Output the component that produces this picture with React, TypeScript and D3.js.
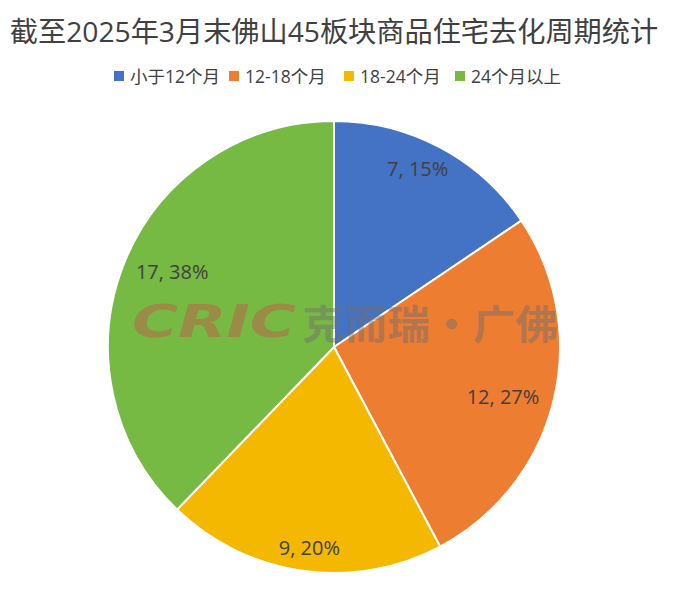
import React from "react";
import * as d3 from "d3";

const title = "截至2025年3月末佛山45板块商品住宅去化周期统计";
const categories = ["小于12个月", "12-18个月", "18-24个月", "24个月以上"];
const counts = [7, 12, 9, 17];
const percents = ["15%", "27%", "20%", "38%"];
const colors = ["#4472C4", "#ED7D31", "#F4B800", "#76B943"];

const W = 679;
const H = 591;
const cx = 334;
const cy = 347;
const R = 226;
const FONT = "'Open Sans', 'Noto Sans CJK SC', sans-serif";
// best-fit label placement: radius factor and angular nudge (degrees) per slice
const labelRadiusFactor = [0.87, 0.78, 0.895, 0.79];
const labelAngleNudge = [-2.8, 2.5, -1, 3];

export default function App() {
  const pie = d3.pie<number>().sort(null).value((d) => d);
  const arcs = pie(counts);
  const arc = d3.arc<d3.PieArcDatum<number>>().innerRadius(0).outerRadius(R);

  const legendX = [114, 229, 344, 455];

  return (
    <svg width={W} height={H} style={{ position: "absolute", left: 0, top: 0, background: "#fff" }}>
      <text x={334} y={42} textAnchor="middle" fontFamily={FONT} fontSize={28.2} fill="#404040">
        {title}
      </text>
      {categories.map((c, i) => (
        <g key={c}>
          <rect x={legendX[i]} y={71} width={10} height={10} fill={colors[i]} />
          <text x={legendX[i] + 16} y={83} fontFamily={FONT} fontSize={17.5} fill="#404040">
            {c}
          </text>
        </g>
      ))}
      <g transform={`translate(${cx},${cy})`}>
        {arcs.map((a, i) => (
          <path key={i} d={arc(a) || ""} fill={colors[i]} stroke="#fff" strokeWidth={2} />
        ))}
        {arcs.map((a, i) => {
          const r = R * labelRadiusFactor[i];
          const ang = (a.startAngle + a.endAngle) / 2 + (labelAngleNudge[i] * Math.PI) / 180;
          const x = r * Math.sin(ang);
          const y = -r * Math.cos(ang);
          return (
            <text key={"l" + i} x={x} y={y} dy="0.35em" textAnchor="middle"
              fontFamily={FONT} fontSize={20} fill="#404040">
              {`${counts[i]}, ${percents[i]}`}
            </text>
          );
        })}
      </g>
      <g>
        <text x={132} y={337} fontFamily="'DejaVu Sans', sans-serif" fontWeight="bold"
          fontStyle="italic" fontSize={44} fill="#B9664B" opacity={0.55} textLength={164}
          lengthAdjust="spacingAndGlyphs">
          CRIC
        </text>
        <text x={302} y={339} fontFamily="'Noto Sans CJK SC', sans-serif" fontWeight="bold" fontSize={40}
          fill="#6e6e6e" opacity={0.45} textLength={256} lengthAdjust="spacingAndGlyphs">
          克而瑞·广佛
        </text>
      </g>
    </svg>
  );
}
